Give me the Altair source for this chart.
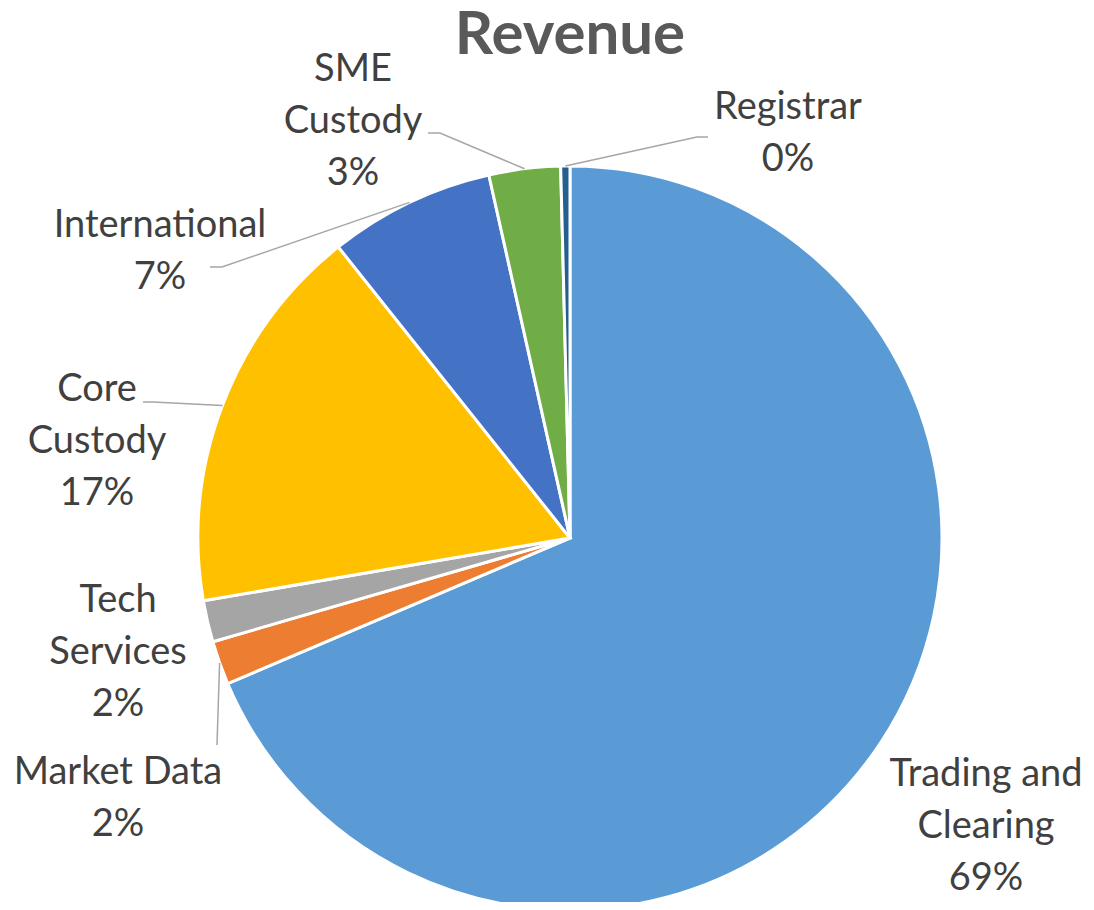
import numpy as np
import pandas as pd
import altair as alt

# ---- data ----
categories = ["Trading and Clearing", "Market Data", "Tech Services", "Core Custody",
              "International", "SME Custody", "Registrar"]
shares = [68.6, 1.9, 1.8, 17.0, 7.2, 3.1, 0.4]
colors = ["#5B9BD5", "#ED7D31", "#A5A5A5", "#FFC000", "#4472C4", "#70AD47", "#255E91"]
label_lines = ["Trading and\nClearing", "Market Data", "Tech\nServices", "Core\nCustody",
               "International", "SME\nCustody", "Registrar"]
title_text = "Revenue"

# ---- label layout (first text line, relative to pie centre, y up) ----
label_x = [416, -452, -452, -473, -410, -217, 218]
label_y = [-237, -235, -63, 148, 312, 468, 430]
title_y = 484
# leader lines: category -> (elbow, end)
leaders = {
    "Market Data": [(-353, -207), (-353, -207)],
    "Core Custody": [(-417, 136), (-427, 136)],
    "International": [(-348, 271), (-360, 271)],
    "SME Custody": [(-130, 405), (-142, 405)],
    "Registrar": [(127, 401), (138, 401)],
}

W, H = 1078, 894
CX, CY = 562, 530  # pie centre in chart pixels
R = 372

pie = pd.DataFrame({"category": categories, "share": shares, "idx": range(len(categories))})
lab = pd.DataFrame({
    "category": categories,
    "text": [f"{l}\n{s:.0f}%" for l, s in zip(label_lines, shares)],
    "lx": label_x, "ly": label_y,
})
ttl = pd.DataFrame({"t": [title_text], "x": [0], "y": [title_y]})

tot = float(np.sum(shares))
cum = np.cumsum(shares)
mid = (cum - np.array(shares) / 2) / tot * 2 * np.pi
rows = []
for i, c in enumerate(categories):
    if c in leaders:
        rows.append({"category": c, "step": 0, "x": R * np.sin(mid[i]), "y": R * np.cos(mid[i])})
        for k, (px, py) in enumerate(leaders[c]):
            rows.append({"category": c, "step": k + 1, "x": px, "y": py})
lead = pd.DataFrame(rows)

xs = alt.Scale(domain=[-CX, W - CX], nice=False, zero=False)
ys = alt.Scale(domain=[-(H - CY), CY], nice=False, zero=False)

arcs = alt.Chart(pie).mark_arc(outerRadius=R, stroke="white", strokeWidth=3).encode(
    theta=alt.Theta("share:Q", stack=True),
    color=alt.Color("category:N", scale=alt.Scale(domain=categories, range=colors), legend=None),
    order=alt.Order("idx:Q"),
    x=alt.X(datum=0, type="quantitative", scale=xs, axis=None),
    y=alt.Y(datum=0, type="quantitative", scale=ys, axis=None),
)

lines = alt.Chart(lead).mark_line(color="#A6A6A6", strokeWidth=1.5).encode(
    x=alt.X("x:Q", scale=xs, axis=None),
    y=alt.Y("y:Q", scale=ys, axis=None),
    detail="category:N",
    order="step:Q",
)

texts = alt.Chart(lab).mark_text(
    font="Lato", fontSize=38, color="#404040", lineBreak="\n", lineHeight=52,
    align="center", baseline="middle",
).encode(
    x=alt.X("lx:Q", scale=xs, axis=None),
    y=alt.Y("ly:Q", scale=ys, axis=None),
    text="text:N",
)

title = alt.Chart(ttl).mark_text(
    font="Lato", fontSize=60, fontWeight="bold", color="#595959",
    align="center", baseline="alphabetic",
).encode(
    x=alt.X("x:Q", scale=xs, axis=None),
    y=alt.Y("y:Q", scale=ys, axis=None),
    text="t:N",
)

chart = alt.layer(arcs, lines, texts, title).properties(
    width=W, height=H, padding=0, autosize=alt.AutoSizeParams(type="none"),
).configure_view(strokeWidth=0)

chart.save("out.html", embed_options={"renderer": "svg", "actions": False})
